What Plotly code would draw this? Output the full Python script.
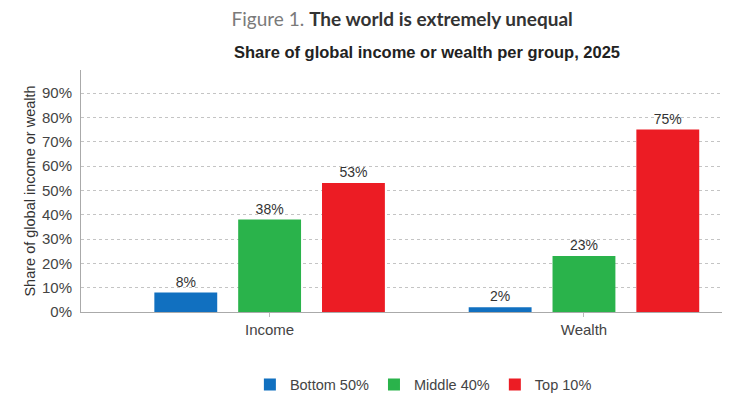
import plotly.graph_objects as go

# data
categories = ['Income', 'Wealth']
groups = ['Bottom 50%', 'Middle 40%', 'Top 10%']
bottom_50 = [0.08, 0.02]
middle_40 = [0.38, 0.23]
top_10 = [0.53, 0.75]
y_ticks = [0, 0.1, 0.2, 0.3, 0.4, 0.5, 0.6, 0.7, 0.8, 0.9]

colors = ['#1170c0', '#2ab34b', '#ec1c24']
series = [bottom_50, middle_40, top_10]

fig = go.Figure()
for name, vals, col in zip(groups, series, colors):
    fig.add_trace(go.Bar(
        x=categories,
        y=vals,
        name=name,
        marker_color=col,
        marker_line_width=0,
        text=[f'{v:.0%}' for v in vals],
        textposition='outside',
        textfont=dict(size=14, color='#333333', family='Arial'),
        cliponaxis=False,
    ))

# the page body adds 8px margin, so margins are offset by that
fig.update_layout(
    width=730,
    height=400,
    template='simple_white',
    paper_bgcolor='white',
    plot_bgcolor='white',
    margin=dict(l=73, r=11, t=62, b=96, autoexpand=False),
    barmode='group',
    bargap=0.2,
    bargroupgap=0.25,
    font=dict(family='Arial', color='#444444'),
    title=dict(
        text="<span style='color:#7a7a7a'>Figure 1.</span> <b>The world is extremely unequal</b>",
        font=dict(family='Lato', size=19, color='#333333'),
        x=0.54, xanchor='center',
        y=0.988, yanchor='top',
        pad=dict(t=0, b=0),
    ),
    legend=dict(
        orientation='h',
        x=0.530, xanchor='center',
        y=-0.30, yanchor='middle',
        font=dict(size=14.5, color='#444444'),
        traceorder='normal',
    ),
)

fig.add_annotation(
    text='<b>Share of global income or wealth per group, 2025</b>',
    xref='paper', yref='paper',
    x=0.536, y=1.074,
    xanchor='center', yanchor='middle',
    showarrow=False,
    font=dict(family='Arial', size=16.5, color='#222222'),
)

fig.update_xaxes(
    range=[-0.6, 1.455],
    automargin=False,
    showline=True, linecolor='#aaaaaa', linewidth=1,
    ticks='outside', ticklen=4, tickcolor='#bbbbbb',
    tickfont=dict(size=15, color='#444444'),
    showgrid=False,
)
fig.update_yaxes(
    range=[0, 0.995],
    automargin=False,
    tickvals=y_ticks,
    tickformat='.0%',
    ticklabelstandoff=5,
    showline=True, linecolor='#aaaaaa', linewidth=1,
    ticks='', mirror=False,
    showgrid=True, gridcolor='#c4c4c4', griddash='dot', gridwidth=1,
    tickfont=dict(size=15, color='#444444'),
    title=dict(text='Share of global income or wealth', font=dict(size=14.5, color='#333333'), standoff=2),
    zeroline=False,
)

fig.write_html('out.html')
